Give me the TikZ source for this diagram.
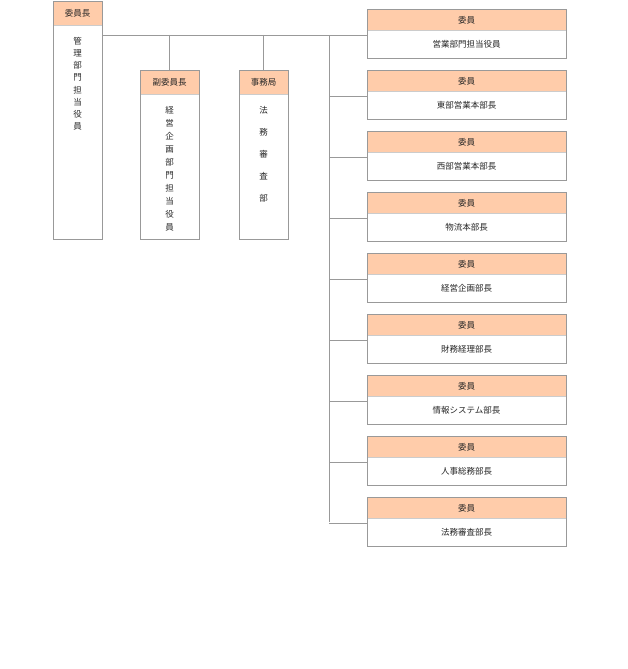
\documentclass[tikz,border=0pt]{standalone}
\usepackage{fontspec}
\setmainfont{Noto Sans CJK JP}
\definecolor{hdr}{HTML}{FFCCAA}
\definecolor{bd}{HTML}{999999}
\definecolor{sep}{HTML}{CCCCCC}
\begin{document}
\begin{tikzpicture}[x=1pt,y=-1pt,font=\fontsize{8.5}{10}\selectfont,
  ln/.style={draw=bd,line width=0.8pt},
  txt/.style={inner sep=0pt,align=center,text=black!85}]
\useasboundingbox (0,0) rectangle (628,669);
\newcommand{\orgbox}[6]{% name,x1,y1,x2,y2,title
  \fill[hdr] (#2,#3) rectangle (#4,#3+24);
  \draw[sep,line width=0.8pt] (#2,#3+24) -- (#4,#3+24);
  \draw[ln] (#2,#3) rectangle (#4,#5);
  \node[txt] (#1h) at ({(#2+#4)/2},#3+12) {#6};
  \coordinate (#1t) at ({(#2+#4)/2},#3);
  \coordinate (#1l) at (#2,#3+26);
}
\orgbox{a}{53}{1}{102}{239}{委員長}
\orgbox{b}{140}{70}{199}{239}{副委員長}
\orgbox{c}{239}{70}{288}{239}{事務局}
\node[txt,anchor=north,font=\fontsize{8.5}{12.2}\selectfont] (at) at (77.5,37) {管\\理\\部\\門\\担\\当\\役\\員};
\node[txt,anchor=north,font=\fontsize{8.5}{13}\selectfont] (bx) at (169.5,106) {経\\営\\企\\画\\部\\門\\担\\当\\役\\員};
\node[txt,anchor=north,font=\fontsize{8.5}{22}\selectfont] (cx) at (263.5,106) {法\\務\\審\\査\\部};
\coordinate (ar) at (102,35);
\coordinate (j) at (329,35);
\coordinate (jb) at (329,522);
\coordinate (bj) at (169.5,35);
\coordinate (cj) at (263.5,35);
\draw[ln] (ar) -- (j) -- (jb);
\draw[ln] (bj) -- (bt);
\draw[ln] (cj) -- (ct);
\foreach \i/\t in {0/営業部門担当役員,1/東部営業本部長,2/西部営業本部長,3/物流本部長,4/経営企画部長,5/財務経理部長,6/情報システム部長,7/人事総務部長,8/法務審査部長}{
  \pgfmathsetmacro{\yy}{9+61*\i}
  \fill[hdr] (367,\yy) rectangle (566,\yy+21);
  \draw[sep,line width=0.8pt] (367,\yy+21) -- (566,\yy+21);
  \draw[ln] (367,\yy) rectangle (566,\yy+49);
  \node[txt] (r\i h) at (466.5,\yy+11) {委員};
  \node[txt] (r\i) at (466.5,\yy+35) {\t};
  \coordinate (r\i l) at (367,\yy+26);
  \coordinate (r\i j) at (329,\yy+26);
  \draw[ln] (r\i j) -- (r\i l);
}
\end{tikzpicture}
\end{document}
